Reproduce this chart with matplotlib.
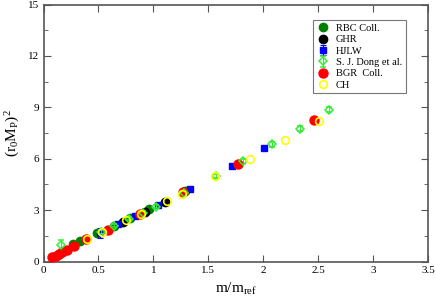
import numpy as np
import matplotlib
matplotlib.use("Agg")
import matplotlib.pyplot as plt
from matplotlib.ticker import MultipleLocator

plt.rcParams['font.family'] = ['Liberation Serif', 'DejaVu Serif']
plt.rcParams['mathtext.fontset'] = 'custom'
plt.rcParams['mathtext.rm'] = 'Liberation Serif'
plt.rcParams['mathtext.it'] = 'Liberation Serif'

# RBC Coll.
rbc_x = [0.27, 0.33, 0.49, 0.64, 0.79, 0.96, 1.29]
rbc_y = [1.00, 1.21, 1.65, 2.10, 2.55, 3.04, 4.10]
# GHR
ghr_x = [0.72, 0.92, 1.11]
ghr_y = [2.30, 2.90, 3.50]
# HJLW
hjlw_x = [0.51, 0.68, 0.83, 1.04, 1.33, 1.72, 2.01]
hjlw_y = [1.65, 2.20, 2.65, 3.30, 4.25, 5.57, 6.60]
hjlw_err = [0.30, 0.05, 0.05, 0.05, 0.05, 0.05, 0.05]
# S. J. Dong et al.
dong_x = [0.16, 0.52, 0.64, 0.78, 0.91, 1.02, 1.28, 1.57, 1.82, 2.08, 2.33, 2.60]
dong_y = [0.95, 1.75, 2.10, 2.50, 2.85, 3.20, 4.00, 5.00, 5.85, 6.85, 7.75, 8.85]
dong_err = [0.30, 0.12, 0.10, 0.10, 0.10, 0.10, 0.12, 0.12, 0.15, 0.15, 0.15, 0.15]
# BGR Coll.
bgr_x = [0.08, 0.11, 0.14, 0.17, 0.21, 0.28, 0.39, 0.59, 0.88, 1.27, 1.77, 2.46]
bgr_y = [0.25, 0.35, 0.45, 0.57, 0.70, 0.92, 1.30, 1.85, 2.78, 4.05, 5.72, 8.28]
# CH
ch_x = [0.40, 0.53, 0.75, 0.89, 1.12, 1.26, 1.56, 1.88, 2.20, 2.51]
ch_y = [1.30, 1.70, 2.40, 2.80, 3.55, 3.95, 5.00, 6.00, 7.08, 8.20]

fig = plt.figure(figsize=(4.36, 3.0), dpi=100)
ax = fig.add_axes([0.0998, 0.128, 0.882, 0.857])

h1, = ax.plot(rbc_x, rbc_y, 'o', color='#008000', ms=6, mec='#008000', label='RBC Coll.', zorder=3)
h2, = ax.plot(ghr_x, ghr_y, 'o', color='black', ms=6, label='GHR', zorder=3)
h3 = ax.errorbar(hjlw_x, hjlw_y, yerr=hjlw_err, fmt='s', color='#0000ff', ms=5, elinewidth=0.8,
                 capsize=2, capthick=0.8, label='HJLW', zorder=3)
h4 = ax.errorbar(dong_x, dong_y, yerr=dong_err, fmt='D', mfc='none', mec='#33ee33', color='#33ee33',
                 ms=4.5, mew=1.1, elinewidth=0.8, capsize=2, capthick=0.8, label='S. J. Dong et al.', zorder=4)
h5, = ax.plot(bgr_x, bgr_y, 'o', color='#ff0000', ms=6.5, label='BGR  Coll.', zorder=4)
h6, = ax.plot(ch_x, ch_y, 'o', mfc='none', mec='#ffff00', ms=5.5, mew=1.2, label='CH', zorder=5)

ax.set_xlim(0, 3.5)
ax.set_ylim(0, 15)
ax.xaxis.set_major_locator(MultipleLocator(0.5))
ax.yaxis.set_major_locator(MultipleLocator(3))
ax.yaxis.set_minor_locator(MultipleLocator(1.5))
ax.xaxis.set_major_formatter(plt.FuncFormatter(lambda v, p: ('%g' % v)))
ax.tick_params(which='both', direction='in', top=True, right=True, labelsize=8, color='#555555')
ax.tick_params(which='major', length=5)
ax.tick_params(which='minor', length=3)
for s in ax.spines.values():
    s.set_color('#555555')
    s.set_linewidth(1.2)

ax.set_xlabel(r'm/m$_{\mathrm{ref}}$', fontsize=11)
ax.set_ylabel(r'(r$_0$M$_{\mathrm{P}}$)$^2$', fontsize=11)

handles = [h1, h2, h3, h4, h5, h6]
leg = ax.legend(handles, [h.get_label() for h in handles], loc='upper right',
                bbox_to_anchor=(0.955, 0.96), fontsize=7.5, numpoints=1,
                frameon=True, fancybox=False, edgecolor='#555555', borderpad=0.35,
                labelspacing=0.2, handletextpad=0.6, handlelength=1.2)
leg.get_frame().set_linewidth(0.8)

fig.savefig('out.png', dpi=100)
